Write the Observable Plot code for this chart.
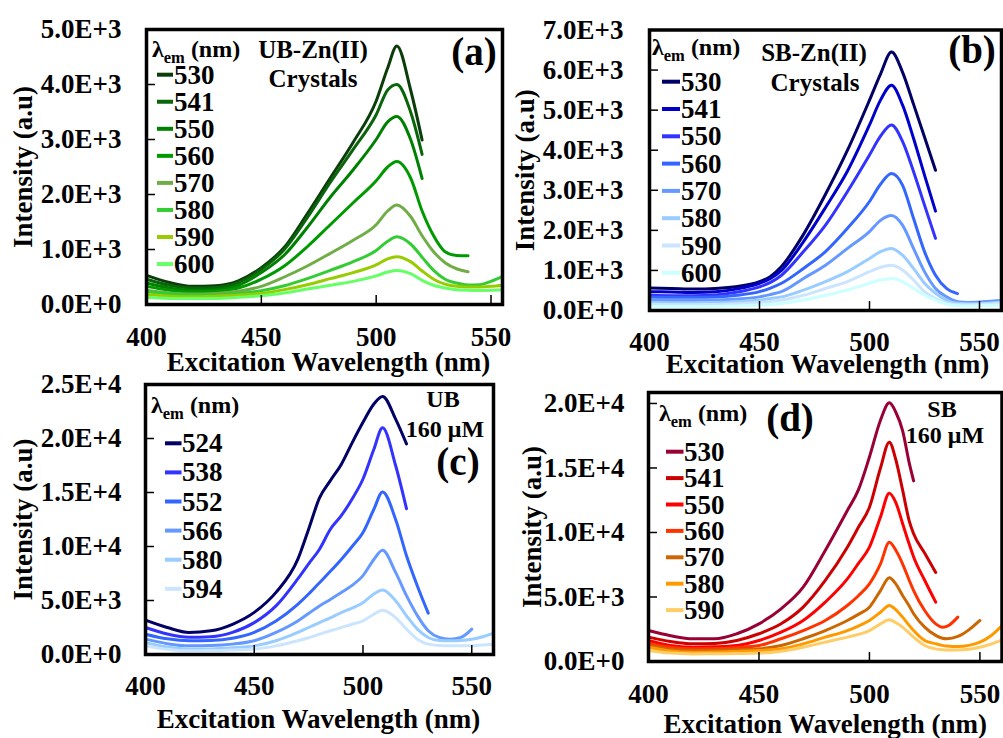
<!DOCTYPE html>
<html><head><meta charset="utf-8">
<script src="https://cdn.jsdelivr.net/npm/d3@7"></script>
<script src="https://cdn.jsdelivr.net/npm/@observablehq/plot@0.6"></script>
<style>
body{margin:0;background:#fff;}
#root{position:relative;width:1003px;height:738px;overflow:hidden;background:#fff;}
#root svg{position:absolute;}
</style></head><body><div id="root"></div>
<script>
const FONT = "'Liberation Serif','Times New Roman',Times,serif";
const xTicks = [400, 450, 500, 550];

// ---------- Panel (a): UB-Zn(II) crystals ----------
const exA = [400,410,420,430,440,450,460,470,480,490,500,505,509,515,520,525,530,535,540,545,550,555];
const emA = ["530","541","550","560","570","580","590","600"];
const colA = ["#0b3d0b","#0a640a","#008000","#009a00","#70ad47","#33cc33","#99cc00","#66ff66"];
const a530 = [530,400,330,340,430,670,1040,1650,2300,2950,3700,4300,4700,3900,2990];
const a541 = [460,350,300,310,400,640,1000,1580,2220,2820,3450,3900,4000,3500,2730];
const a550 = [390,300,260,270,350,580,900,1400,1950,2450,3000,3320,3420,3000,2290];
const a560 = [330,260,230,240,300,460,700,1050,1450,1850,2250,2500,2600,2300,1700,1250,960,890,885];
const a570 = [260,210,190,200,240,330,500,700,930,1170,1450,1700,1810,1600,1250,960,760,650,595];
const a580 = [230,190,170,170,200,250,340,470,620,780,980,1150,1230,1100,860,620,460,390,355,360,420,510];
const a590 = [180,150,140,150,170,200,270,360,470,580,720,830,870,780,610,460,370,330,320,320,330,350];
const a600 = [130,110,110,110,130,160,210,280,350,420,520,590,620,560,440,350,300,270,260,255,260,270];
const yTicksA = [0,1000,2000,3000,4000,5000];

// ---------- Panel (b): SB-Zn(II) crystals ----------
const exB = [400,410,420,430,440,450,455,460,470,480,490,500,505,510,515,520,525,530,535,540,545,550,555,560];
const emB = ["530","541","550","560","570","580","590","600"];
const colB = ["#000066","#0000cc","#3333ff","#3366ff","#6699ff","#99ccff","#cce5ff","#ccffff"];
const b530 = [560,550,535,550,600,720,850,1100,1900,2900,4000,5250,5900,6450,5950,5150,4330,3500];
const b541 = [470,460,450,470,540,680,800,1000,1720,2570,3480,4630,5250,5620,5130,4300,3380,2480];
const b550 = [380,370,370,390,460,590,700,880,1470,2130,2970,3880,4350,4630,4220,3470,2630,1800];
const b560 = [340,330,330,340,380,470,560,680,1050,1470,2050,2720,3150,3420,3130,2300,1470,880,550,420];
const b570 = [260,250,250,260,285,340,400,470,800,1130,1550,1970,2250,2370,2130,1550,970,550,340,220,200,210,230,250];
const b580 = [200,195,195,200,220,260,300,340,510,720,970,1300,1470,1550,1380,1050,680,430,260,180,170,175,190,210];
const b590 = [150,145,145,150,170,200,225,260,380,550,720,970,1080,1130,1010,760,470,300,190,150,145,150,165,180];
const b600 = [95,95,95,100,115,135,150,175,260,380,510,680,760,800,720,550,380,260,160,120,115,120,130,135];
const yTicksB = [0,1000,2000,3000,4000,5000,6000,7000];

// ---------- Panel (c): UB 160 µM ----------
const exC = [400,410,420,430,440,450,460,470,475,480,485,490,495,500,505,509,515,520,525,530,535,540,545,550,555,560];
const emC = ["524","538","552","566","580","594"];
const colC = ["#000066","#3333ff","#3366ff","#6699ff","#99ccff","#cce5ff"];
const c524 = [3180,2500,2040,2190,2800,3900,5750,8800,11600,14500,16100,17600,19600,21500,23200,23900,21800,19500];
const c538 = [2500,1900,1600,1650,2050,2950,4500,7000,8400,9750,11600,12850,14400,16250,19000,21000,17500,13500];
const c552 = [1880,1450,1270,1300,1500,2050,3100,4650,5600,6650,7700,8800,10000,11300,13450,15050,12500,9150,6350,3830];
const c566 = [1420,1000,800,830,960,1270,2040,3100,3800,4500,5100,5750,6400,7300,8800,9650,7600,5450,3600,2200,1580,1420,1580,2350];
const c580 = [1100,700,500,520,620,800,1270,2040,2500,2960,3400,3880,4300,4800,5600,5980,4970,3580,2350,1570,1300,1270,1300,1420,1650,1980];
const c594 = [800,480,340,360,420,500,800,1270,1550,1880,2200,2500,2800,3120,3730,4100,3420,2350,1420,960,830,800,800,800,880,960];
const yTicksC = [0,5000,10000,15000,20000,25000];

// ---------- Panel (d): SB 160 µM ----------
const exD = [400,410,420,430,440,450,460,470,480,490,495,500,505,509,512,515,518,520,525,530,533,535,540,545,550,555,560];
const emD = ["530","541","550","560","570","580","590"];
const colD = ["#990033","#cc0000","#ff0000","#ff3300","#cc6600","#ff9900","#ffcc66"];
const d530 = [2400,2000,1760,1760,2150,2920,4080,5760,8600,11700,13300,15850,18700,20050,19300,17900,15400,14000];
const d541 = [1890,1550,1370,1400,1630,2150,2920,4210,6280,8860,10400,11960,15000,17000,15600,13300,10900,9900,8400,6900];
const d550 = [1630,1240,1110,1140,1240,1630,2270,3180,4600,6400,7600,8860,11200,13050,12300,10700,9100,8100,6300,4600];
const d560 = [1370,1100,980,1000,1080,1240,1760,2400,3180,4340,5100,6020,7570,9250,8600,7570,6300,5500,3950,2920,2660,2720,3440];
const d570 = [1240,950,850,870,920,980,1240,1760,2400,3180,3650,4210,5500,6490,6000,5120,4300,3700,2660,2020,1800,1760,1940,2450,3180];
const d580 = [1110,820,720,730,780,850,980,1370,1890,2400,2750,3180,3820,4340,4000,3440,2800,2400,1630,1370,1250,1200,1160,1250,1500,2000,2790];
const d590 = [850,650,590,600,620,650,800,1110,1500,1890,2100,2400,2920,3230,3000,2660,2200,1890,1240,980,920,900,900,950,1110,1350,1680];
const yTicksD = [0,5000,10000,15000,20000];

function fmtE(d) {
  if (d === 0) return "0.0E+0";
  const e = Math.floor(Math.log10(d) + 1e-9);
  return (d / Math.pow(10, e)).toFixed(1) + "E+" + e;
}

const panels = [
  {left:0, top:0, w:505, h:370, ml:146, mr:3, mt:29, mb:66, xDomain:[400,555], yDomain:[0,5000], yTicks:yTicksA,
   grid:exA, names:emA, colors:colA, series:[a530,a541,a550,a560,a570,a580,a590,a600],
   yPad:25, xPad:22, yTitleDx:-123, xTitleDx:4, xTitleDy:58,
   legend:{lx1:157, lx2:173, tx:174, y0:74.7, dy:27.05, hx:152, hy:57},
   notes:[{t:"UB-Zn(II)", x:313, y:58, s:25},{t:"Crystals", x:313, y:86.5, s:25},{t:"(a)", x:474, y:65, s:39}]},
  {left:505, top:0, w:498, h:370, ml:144, mr:2, mt:29.5, mb:60, xDomain:[400,560], yDomain:[0,7000], yTicks:yTicksB,
   grid:exB, names:emB, colors:colB, series:[b530,b541,b550,b560,b570,b580,b590,b600],
   yPad:26, xPad:21, yTitleDx:-124, xTitleDx:2, xTitleDy:54,
   legend:{lx1:662, lx2:680, tx:681, y0:81.7, dy:27.3, hx:652, hy:55},
   notes:[{t:"SB-Zn(II)", x:814, y:61, s:25},{t:"Crystals", x:815, y:91, s:25},{t:"(b)", x:972, y:63, s:39}]},
  {left:0, top:370, w:505, h:368, ml:145, mr:12, mt:14, mb:84, xDomain:[400,560], yDomain:[0,25000], yTicks:yTicksC,
   grid:exC, names:emC, colors:colC, series:[c524,c538,c552,c566,c580,c594],
   yPad:24, xPad:21, yTitleDx:-122, xTitleDx:-1, xTitleDy:65,
   legend:{lx1:165, lx2:181.5, tx:182, y0:443.3, dy:29.1, hx:151, hy:413},
   notes:[{t:"UB", x:443, y:407, s:24},{t:"160 μM", x:445, y:437, s:24},{t:"(c)", x:458, y:475, s:39}]},
  {left:505, top:370, w:498, h:368, ml:143, mr:1.5, mt:22, mb:77, xDomain:[400,560], yDomain:[0,20850], yTicks:yTicksD,
   grid:exD, names:emD, colors:colD, series:[d530,d541,d550,d560,d570,d580,d590],
   yPad:24, xPad:22, yTitleDx:-116, xTitleDx:0, xTitleDy:63,
   legend:{lx1:666, lx2:683.5, tx:684, y0:451.7, dy:26.4, hx:659, hy:421},
   notes:[{t:"SB", x:942, y:417, s:24},{t:"160 μM", x:945, y:443, s:24},{t:"(d)", x:790, y:431, s:39}]}
];

const root = document.getElementById("root");

for (const p of panels) {
  const rows = [];
  p.series.forEach((vals, si) => vals.forEach((v, i) => rows.push({ex: p.grid[i], v, em: p.names[si]})));
  const svgEl = Plot.plot({
    width: p.w, height: p.h,
    marginLeft: p.ml, marginRight: p.mr, marginTop: p.mt, marginBottom: p.mb,
    x: {domain: p.xDomain},
    y: {domain: p.yDomain},
    color: {type: "ordinal", domain: p.names, range: p.colors},
    style: {fontFamily: FONT, fontSize: "27px", fontWeight: "bold", background: "transparent", overflow: "visible", color: "black"},
    marks: [
      Plot.line(rows, {x: "ex", y: "v", z: "em", stroke: "em", strokeWidth: 3, curve: "monotone-x"}),
      Plot.axisX({ticks: xTicks, tickSize: -9, text: null, label: null, strokeWidth: 1.5}),
      Plot.axisX({ticks: xTicks, tickSize: 0, tickPadding: p.xPad, label: null, fontSize: 27}),
      Plot.axisY({ticks: p.yTicks, tickSize: -9, text: null, label: null, strokeWidth: 1.5}),
      Plot.axisY({ticks: p.yTicks, tickSize: 0, tickPadding: p.yPad, tickFormat: fmtE, label: null, fontSize: 27}),
      Plot.text(["Intensity (a.u)"], {text: d => d, frameAnchor: "left", textAnchor: "middle", lineAnchor: "middle", rotate: -90, dx: p.yTitleDx, fontSize: 27, fontWeight: "bold"}),
      Plot.text(["Excitation Wavelength (nm)"], {text: d => d, frameAnchor: "bottom", textAnchor: "middle", lineAnchor: "middle", dx: p.xTitleDx, dy: p.xTitleDy, fontSize: 27, fontWeight: "bold"}),
      Plot.frame({stroke: "black", strokeWidth: 3.5})
    ]
  });
  svgEl.style.left = p.left + "px";
  svgEl.style.top = p.top + "px";
  root.appendChild(svgEl);

  const svg = d3.select(svgEl);
  const g = svg.append("g").attr("font-family", FONT).attr("font-weight", "bold").attr("fill", "black")
    .attr("text-anchor", "start").style("white-space", "pre");
  const L = p.legend;
  p.names.forEach((n, i) => {
    const cy = L.y0 + i * L.dy - p.top;
    g.append("line").attr("x1", L.lx1 - p.left).attr("x2", L.lx2 - p.left).attr("y1", cy).attr("y2", cy)
      .attr("stroke", p.colors[i]).attr("stroke-width", 4);
    g.append("text").attr("text-anchor", "start").attr("x", L.tx - p.left).attr("y", cy + 9).attr("font-size", 27).text(n);
  });
  const h = g.append("text").attr("text-anchor", "start").attr("x", L.hx - p.left).attr("y", L.hy - p.top).attr("font-size", 24);
  h.append("tspan").text("λ");
  h.append("tspan").attr("font-size", 16.5).attr("dy", 6).text("em");
  h.append("tspan").attr("dy", -6).text(" (nm)");
  for (const nt of p.notes) {
    g.append("text").attr("x", nt.x - p.left).attr("y", nt.y - p.top).attr("font-size", nt.s)
      .attr("text-anchor", "middle").text(nt.t);
  }
}
</script></body></html>
